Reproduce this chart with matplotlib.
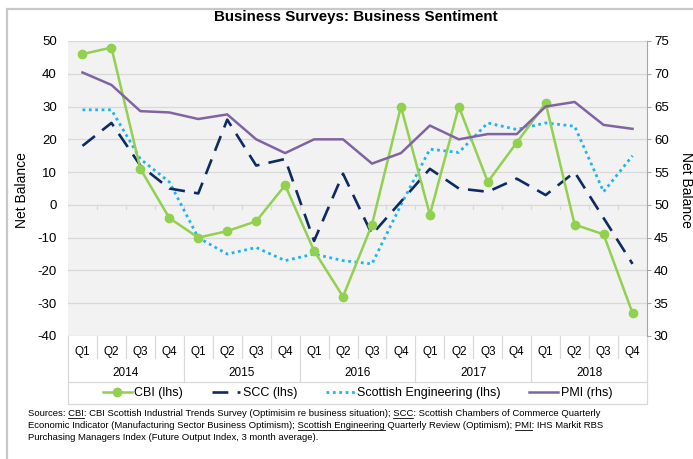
import numpy as np
import matplotlib.pyplot as plt
from matplotlib.lines import Line2D
from matplotlib.patches import Rectangle

plt.rcParams['font.family'] = ['Liberation Sans', 'DejaVu Sans']
plt.rcParams['axes.unicode_minus'] = False

# data (2014 Q1 .. 2018 Q4)
quarters = ['Q1', 'Q2', 'Q3', 'Q4'] * 5
years = ['2014', '2015', '2016', '2017', '2018']
cbi = [46, 48, 11, -4, -10, -8, -5, 6, -14, -28, -6, 30, -3, 30, 7, 19, 31, -6, -9, -33]
scc = [18, 25, 12, 5, 3.5, 26, 12, 14, -11, 9.5, -9, 1, 11, 5, 4, 8, 3, 10, -4, -18]
sce = [29, 29, 14, 7, -10, -15, -13, -17, -15, -17, -18, 0, 17, 16, 25, 23, 25, 24, 4, 15]
pmi = [70.2, 68.3, 64.3, 64.1, 63.1, 63.8, 60.0, 57.9, 60.0, 60.0, 56.3, 57.9,
       62.1, 60.0, 60.8, 60.8, 65.0, 65.7, 62.2, 61.6]
labels = ['CBI (lhs)', 'SCC (lhs)', 'Scottish Engineering (lhs)', 'PMI (rhs)']

c_cbi = '#92d050'
c_scc = '#0d2a63'
c_sce = '#1fb4f0'
c_pmi = '#8064a2'
c_grid = '#d9d9d9'

W, H = 693, 459
fig = plt.figure(figsize=(W / 100, H / 100), dpi=100)

# outer frame (runs off the right and bottom edge)
fig.patches.append(Rectangle((7 / W, -0.1), 1.2, 1 - 9 / H + 0.1, transform=fig.transFigure,
                             fill=False, edgecolor='#c8c8c8', lw=1.6))

ax = fig.add_axes([68 / W, 1 - 336 / H, (647 - 68) / W, 295 / H])
ax.set_facecolor('#f2f2f2')
x = np.arange(len(cbi))

ax.plot(x, sce, color=c_sce, lw=2, ls=(0, (1, 1.3)), zorder=3)
ax.plot(x, scc, color=c_scc, lw=1.9, ls=(0, (6, 3.5)), zorder=3)
ax.plot(x, cbi, color=c_cbi, lw=1.8, marker='o', ms=6, zorder=4)

ax.set_xlim(-0.5, 19.5)
ax.set_ylim(-40, 50)
ax.set_yticks(range(-40, 51, 10))
ax.set_xticks([])
ax.grid(axis='y', color=c_grid, lw=0.9)
ax.set_axisbelow(True)
ax.tick_params(axis='y', length=0, pad=8, labelsize=9.5)
for s in ax.spines.values():
    s.set_visible(False)

# small category ticks under the zero line
for k in range(1, 20):
    ax.plot([k - 0.5, k - 0.5], [0, -1.2], color=c_grid, lw=0.9, zorder=1)

ax2 = ax.twinx()
ax2.plot(x, pmi, color=c_pmi, lw=1.8, zorder=3)
ax2.set_ylim(30, 75)
ax2.set_yticks(range(30, 76, 5))
for s in ax2.spines.values():
    s.set_visible(False)
ax2.spines['right'].set_visible(True)
ax2.spines['right'].set_color('#a6a6a6')
ax2.tick_params(axis='y', length=3, color='#a6a6a6', pad=2, labelsize=9.5)

# multi-level category axis
tr = ax.get_xaxis_transform()
for i, q in enumerate(quarters):
    ax.text(i, -0.054, q, transform=tr, ha='center', va='center', fontsize=8.5)
for j, yr in enumerate(years):
    ax.text(4 * j + 1.5, -0.125, yr, transform=tr, ha='center', va='center', fontsize=8.5)
for k in range(0, 21):
    y1 = -0.156 if k % 4 == 0 else -0.075
    ax.plot([k - 0.5, k - 0.5], [0, y1], transform=tr, color=c_grid, lw=0.9, clip_on=False)

# legend box
ax.add_patch(Rectangle((0, -0.2305), 1, 0.0745, transform=ax.transAxes, facecolor='white',
                       edgecolor=c_grid, lw=0.9, clip_on=False))
handles = [Line2D([], [], color=c_cbi, lw=1.8, marker='o', ms=6),
           Line2D([], [], color=c_scc, lw=1.9, ls=(0, (6, 3.5))),
           Line2D([], [], color=c_sce, lw=2, ls=(0, (1, 1.3))),
           Line2D([], [], color=c_pmi, lw=1.8)]
ax.legend(handles, labels, loc='center', bbox_to_anchor=(0.5, -0.193), ncol=4, frameon=False,
          fontsize=9, handlelength=2.3, handletextpad=0.2, columnspacing=2.3, borderaxespad=0)

fig.text(356 / W, 1 - 17 / H, 'Business Surveys: Business Sentiment', ha='center', va='center',
         fontsize=10.9, fontweight='bold')
fig.text(22 / W, 1 - 190 / H, 'Net Balance', rotation=90, ha='center', va='center', fontsize=10)
fig.text(686 / W, 1 - 190 / H, 'Net Balance', rotation=270, ha='center', va='center', fontsize=10)

# sources note with underlined abbreviations
src = ['Sources: CBI: CBI Scottish Industrial Trends Survey (Optimisim re business situation); '
       'SCC: Scottish Chambers of Commerce Quarterly',
       'Economic Indicator (Manufacturing Sector Business Optimism); Scottish Engineering '
       'Quarterly Review (Optimism); PMI: IHS Markit RBS',
       'Purchasing Managers Index (Future Output Index, 3 month average).']
under = [['CBI', 'SCC'], ['Scottish Engineering', 'PMI'], []]
fs = 6.8
x0 = 28 / W
renderer = fig.canvas.get_renderer()
for n, line in enumerate(src):
    yb = 1 - (416 + 12 * n) / H
    fig.text(x0, yb, line, fontsize=fs, va='baseline', ha='left')
    for word in under[n]:
        idx = line.find(word)
        t1 = fig.text(x0, yb, line[:idx + len(word)], fontsize=fs, va='baseline')
        t2 = fig.text(x0, yb, word, fontsize=fs, va='baseline')
        xe = t1.get_window_extent(renderer).x1
        ww = t2.get_window_extent(renderer).width
        t1.remove()
        t2.remove()
        yu = yb - 1.5 / H
        fig.add_artist(Line2D([(xe - ww) / W, xe / W], [yu, yu], transform=fig.transFigure,
                              color='black', lw=0.6))

fig.savefig('out.png', dpi=100)
